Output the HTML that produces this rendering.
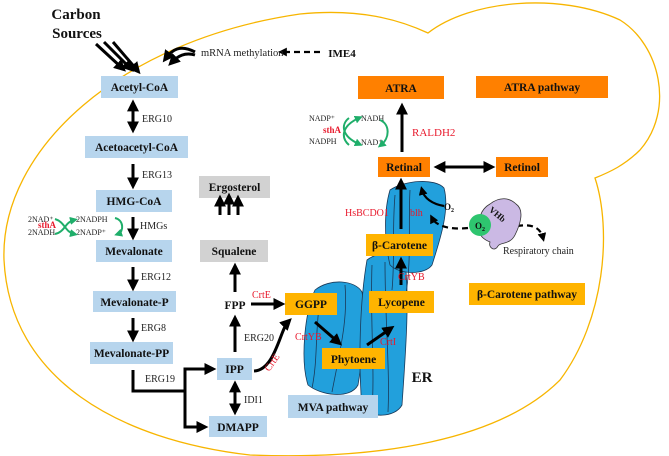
<!DOCTYPE html>
<html><head><meta charset="utf-8"><style>
body{margin:0;background:#fff}
svg{display:block}
.b{font-family:"Liberation Serif",serif;font-weight:bold;font-size:11.5px;fill:#111;text-anchor:middle}
.s{font-family:"Liberation Serif",serif;font-size:10px;fill:#222}
.r{font-family:"Liberation Serif",serif;font-size:10px;fill:#e8192c}
.t{font-family:"Liberation Serif",serif;font-size:8px;fill:#222}
</style></head><body>
<svg width="669" height="456" viewBox="0 0 669 456" xmlns="http://www.w3.org/2000/svg">
<defs>
<marker id="a" markerWidth="4" markerHeight="4" refX="2.2" refY="2" orient="auto"><path d="M0,0 L4,2 L0,4 z" fill="#000"/></marker>
<marker id="as" markerWidth="4" markerHeight="4" refX="1.8" refY="2" orient="auto-start-reverse"><path d="M0,0 L4,2 L0,4 z" fill="#000"/></marker>
<marker id="g" markerWidth="4" markerHeight="4" refX="2" refY="2" orient="auto"><path d="M0,0 L4,2 L0,4 z" fill="#1fae6a"/></marker>
</defs>
<path d="M250,455 C120,440 10,380 4,260 C0,150 120,40 300,14 C360,8 400,20 428,33 C470,0 560,-8 620,20 C660,45 675,110 640,150 C625,165 610,172 595,178 C612,230 605,320 560,380 C500,440 380,460 250,455 Z" fill="none" stroke="#f7b500" stroke-width="1.3"/>
<g fill="#22a0dc" stroke="#1a3a5a" stroke-width="0.8">
<path d="M315,290 C330,278 355,280 362,292 C368,320 362,360 358,385 C350,400 320,395 308,385 C300,360 305,310 315,290 Z"/>
<path d="M367,260 C380,250 400,252 405,262 C410,300 405,360 402,405 C395,418 370,418 362,408 C358,360 360,300 367,260 Z"/>
<path d="M390,190 C405,180 435,178 444,188 C450,210 440,240 432,265 C425,275 400,275 390,265 C384,240 384,210 390,190 Z"/>
<path d="M395,195 C392,230 395,260 392,290 M410,190 C408,230 412,260 405,300 M372,265 C370,320 375,370 372,410 M385,262 C385,320 390,370 388,412 M320,300 C315,330 318,360 312,388 M345,285 C348,320 340,350 332,392" fill="none"/>
</g>
<g fill="#b7d5ed">
<rect x="101" y="76" width="77" height="22"/><rect x="85" y="136" width="103" height="22"/>
<rect x="96" y="190" width="76" height="22"/><rect x="96" y="240" width="76" height="22"/>
<rect x="93" y="291" width="83" height="21"/><rect x="90" y="342" width="83" height="22"/>
<rect x="217" y="358" width="35" height="22"/><rect x="209" y="416" width="58" height="21"/>
<rect x="288" y="395" width="90" height="23"/>
</g>
<g fill="#d2d2d2"><rect x="199" y="176" width="71" height="22"/><rect x="200" y="240" width="68" height="22"/></g>
<g fill="#ffb400">
<rect x="285" y="293" width="52" height="22"/><rect x="322" y="348" width="63" height="21"/>
<rect x="369" y="291" width="65" height="22"/><rect x="366" y="234" width="67" height="22"/>
<rect x="469" y="283" width="116" height="22"/>
</g>
<g fill="#ff8000">
<rect x="378" y="157" width="52" height="20"/><rect x="496" y="157" width="52" height="20"/>
<rect x="358" y="76" width="86" height="23"/><rect x="476" y="76" width="132" height="22"/>
</g>
<g class="b">
<text x="139.5" y="91">Acetyl-CoA</text><text x="136.5" y="151">Acetoacetyl-CoA</text>
<text x="134" y="205">HMG-CoA</text><text x="134" y="255">Mevalonate</text>
<text x="134.5" y="306">Mevalonate-P</text><text x="131.5" y="357">Mevalonate-PP</text>
<text x="234.5" y="373">IPP</text><text x="238" y="431">DMAPP</text>
<text x="333" y="411">MVA pathway</text>
<text x="234.5" y="191">Ergosterol</text><text x="234" y="255">Squalene</text>
<text x="311" y="308">GGPP</text><text x="353.5" y="363">Phytoene</text>
<text x="401.5" y="306">Lycopene</text><text x="399.5" y="249">β-Carotene</text>
<text x="527" y="298">β-Carotene pathway</text>
<text x="404" y="171">Retinal</text><text x="522" y="171">Retinol</text>
<text x="401" y="92">ATRA</text><text x="542" y="91">ATRA pathway</text>
<text x="235" y="309">FPP</text>
<text x="422" y="382" style="font-size:15px">ER</text>
<text x="76" y="19" style="font-size:15px">Carbon</text><text x="77" y="38" style="font-size:15px">Sources</text>
<text x="342" y="57" style="font-size:11px">IME4</text>
</g>
<g stroke="#000" stroke-width="3" fill="none">
<path d="M96,44 L122,68" marker-end="url(#a)"/><path d="M104,42 L130,68" marker-end="url(#a)"/><path d="M113,42 L137,70" marker-end="url(#a)"/>
<path d="M133,106 L133,128" marker-start="url(#as)" marker-end="url(#a)"/>
<path d="M133,164 L133,184" marker-end="url(#a)"/>
<path d="M133,217 L133,235" marker-end="url(#a)"/>
<path d="M133,267 L133,286" marker-end="url(#a)"/>
<path d="M133,318 L133,337" marker-end="url(#a)"/>
<path d="M133,370 L133,391 L185,391 M185,391 L185,369 L211,369" marker-end="url(#a)"/>
<path d="M185,391 L185,427 L203,427" marker-end="url(#a)"/>
<path d="M235,387 L235,410" marker-start="url(#as)" marker-end="url(#a)"/>
<path d="M235,352 L235,320" marker-end="url(#a)"/>
<path d="M235,292 L235,268" marker-end="url(#a)"/>
<path d="M251,304 L280,304" marker-end="url(#a)"/>
<path d="M254,371 C275,370 280,330 288,322" marker-end="url(#a)"/>
<path d="M315,322 L338,342" marker-end="url(#a)"/>
<path d="M367,345 L390,329" marker-end="url(#a)"/>
<path d="M401,285 L401,262" marker-end="url(#a)"/>
<path d="M401,229 L401,183" marker-end="url(#a)"/>
<path d="M402,152 L402,108" marker-end="url(#a)"/>
<path d="M440,167 L490,167" marker-start="url(#as)" marker-end="url(#a)"/>
<path d="M220,215 L220,200" marker-end="url(#a)"/><path d="M229,215 L229,198" marker-end="url(#a)"/><path d="M238,215 L238,200" marker-end="url(#a)"/>
<path d="M195,52 C180,44 172,50 166,58" marker-end="url(#a)"/><path d="M195,55 C185,52 178,56 172,62" marker-end="url(#a)"/>
<path d="M444,206 C432,204 424,198 422,190" marker-end="url(#a)" stroke-width="2.2"/>
</g>
<g stroke="#000" stroke-width="2.2" fill="none" stroke-dasharray="6,4">
<path d="M320,52 L282,52" marker-end="url(#a)"/>
<path d="M468,228 C450,230 436,226 432,218" marker-end="url(#a)"/>
<path d="M517,226 C530,224 540,226 543,238" marker-end="url(#a)"/>
</g>
<path d="M490,204 C500,196 510,198 516,204 C525,210 520,225 515,235 C510,245 500,242 498,246 C495,252 488,248 490,242 C485,240 478,236 480,228 C478,215 483,208 490,204 Z" fill="#cbb9e4" stroke="#333" stroke-width="0.8"/>
<text x="495" y="218" class="b" style="font-size:9px" transform="rotate(40 497 218)">VHb</text>
<circle cx="480" cy="225" r="11" fill="#2ec56f"/>
<text x="480" y="229" class="b" style="font-size:9px">O<tspan font-size="6" dy="2">2</tspan></text>
<text x="449" y="210" class="b" style="font-size:9px">O<tspan font-size="6" dy="2">2</tspan></text>
<text x="503" y="254" class="s">Respiratory chain</text>
<text x="201" y="56" class="s" style="font-size:10.5px">mRNA methylation</text>
<text x="142" y="122" class="s">ERG10</text><text x="142" y="178" class="s">ERG13</text>
<text x="140" y="229" class="s">HMGs</text><text x="141" y="280" class="s">ERG12</text>
<text x="141" y="331" class="s">ERG8</text><text x="145" y="382" class="s">ERG19</text>
<text x="244" y="341" class="s">ERG20</text><text x="244" y="403" class="s">IDI1</text>
<text x="252" y="298" class="r">CrtE</text>
<text x="263" y="370" class="r" transform="rotate(-55 268 365)">CrtE</text>
<text x="295" y="340" class="r">CrtYB</text>
<text x="380" y="345" class="r">CrtI</text>
<text x="398" y="280" class="r">CrtYB</text>
<text x="345" y="216" class="r">HsBCDO1</text>
<text x="410" y="216" class="r">blh</text>
<text x="412" y="136" class="r" style="font-size:11px">RALDH2</text>
<text x="28" y="222" class="t">2NAD⁺</text><text x="28" y="235" class="t">2NADH</text>
<text x="76" y="222" class="t">2NADPH</text><text x="76" y="235" class="t">2NADP⁺</text>
<text x="38" y="228" class="r" style="font-weight:bold;font-size:9px">sthA</text>
<g stroke="#1fae6a" stroke-width="2" fill="none">
<path d="M55,219 C65,222 65,232 74,234" marker-end="url(#g)"/><path d="M55,234 C65,232 65,222 74,220" marker-end="url(#g)"/>
<path d="M115,218 C124,220 124,232 118,234" marker-end="url(#g)"/>
</g>
<text x="309" y="121" class="t">NADP⁺</text><text x="309" y="144" class="t">NADPH</text>
<text x="361" y="121" class="t">NADH</text><text x="361" y="145" class="t">NAD⁺</text>
<text x="323" y="133" class="r" style="font-weight:bold;font-size:9px">sthA</text>
<g stroke="#1fae6a" stroke-width="2" fill="none">
<path d="M349,118 C341,124 341,136 359,144" marker-end="url(#g)"/><path d="M349,145 C341,138 341,126 359,118" marker-end="url(#g)"/>
<path d="M380,120 C390,124 390,138 381,145" marker-end="url(#g)"/>
</g>
</svg>
</body></html>
